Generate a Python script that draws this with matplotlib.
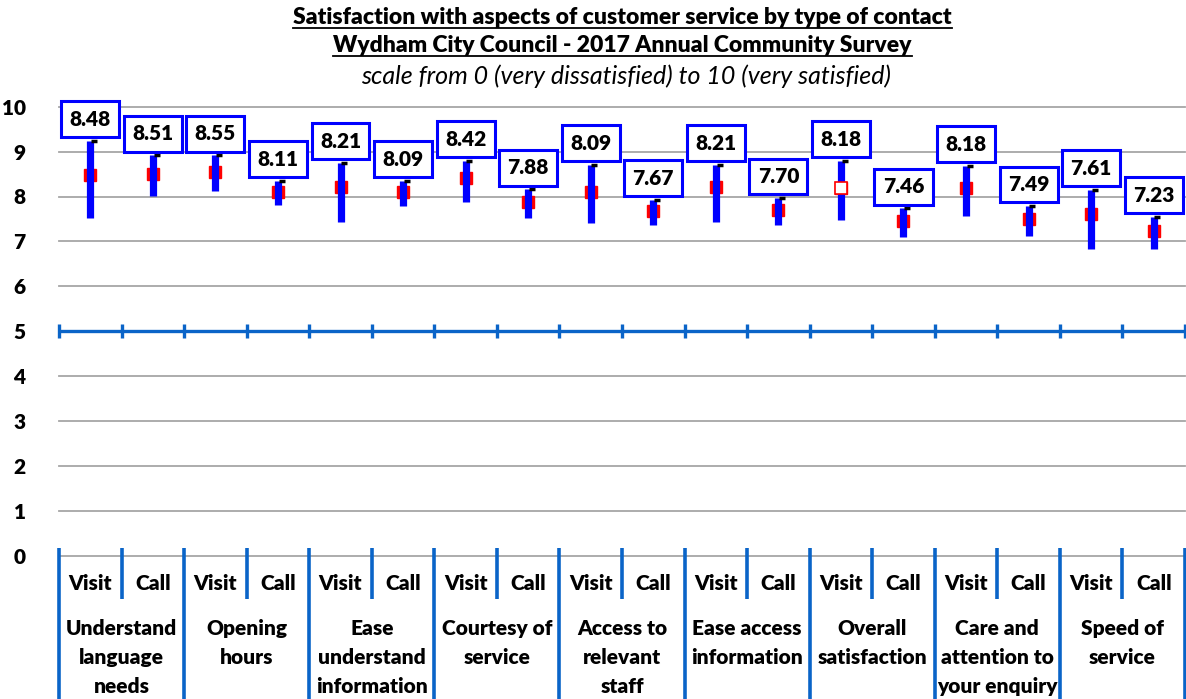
import numpy as np
import matplotlib
matplotlib.use("Agg")
import matplotlib.pyplot as plt
import matplotlib.transforms as mtransforms

plt.rcParams['font.family'] = ['Lato', 'DejaVu Sans']

# ---------------- data ----------------
categories = ["Understand\nlanguage\nneeds", "Opening\nhours", "Ease\nunderstand\ninformation",
              "Courtesy of\nservice", "Access to\nrelevant\nstaff", "Ease access\ninformation",
              "Overall\nsatisfaction", "Care and\nattention to\nyour enquiry", "Speed of\nservice"]
contact_types = ["Visit", "Call"]

visit_mean = [8.48, 8.55, 8.21, 8.42, 8.09, 8.21, 8.18, 8.18, 7.61]
call_mean = [8.51, 8.11, 8.09, 7.88, 7.67, 7.70, 7.46, 7.49, 7.23]
# 95% confidence interval ends (blue bars)
visit_low = [7.53, 8.13, 7.44, 7.88, 7.41, 7.44, 7.48, 7.57, 6.82]
visit_high = [9.24, 8.92, 8.75, 8.80, 8.71, 8.71, 8.80, 8.69, 8.15]
call_low = [8.02, 7.81, 7.78, 7.53, 7.37, 7.37, 7.10, 7.13, 6.82]
call_high = [8.92, 8.35, 8.35, 8.16, 7.93, 7.97, 7.74, 7.79, 7.55]

yticks = list(range(0, 11))
ref_line = 5

# interleave visit / call per category
means = np.ravel(np.column_stack([visit_mean, call_mean]))
lows = np.ravel(np.column_stack([visit_low, call_low]))
highs = np.ravel(np.column_stack([visit_high, call_high]))
n = len(means)
xs = np.arange(n) + 0.5

axis_blue = '#0A64C8'
W = 'heavy'
fig = plt.figure(figsize=(11.86, 6.99), dpi=100)
ax = fig.add_axes([59 / 1186, (699 - 555.7) / 699, 1126 / 1186, 449 / 699])
ax.set_xlim(0, n)
ax.set_ylim(0, 10)

# grid lines
for y in yticks:
    if y != ref_line:
        ax.axhline(y, color='#A6A6A6', lw=1.3, zorder=1, clip_on=False)
ax.axhline(ref_line, color=axis_blue, lw=2.4, zorder=2)
for b in range(n + 1):
    ax.plot([b, b], [ref_line - 0.15, ref_line + 0.15], color=axis_blue, lw=2.4, zorder=2,
            clip_on=False, solid_capstyle='butt')

# CI bars, means, caps
ax.vlines(xs, lows, highs, color='#0000FF', lw=5.2, zorder=3)
ax.plot(xs, means, 's', color='#FF0000', ms=9, zorder=2, ls='none')
hollow = 2 * categories.index("Overall\nsatisfaction")
ax.plot(xs[hollow], means[hollow], 's', mfc='white', mec='#FF0000', mew=1.2, ms=8, zorder=4)
ax.plot(xs + 0.06, highs, '_', color='black', ms=5, mew=2.5, zorder=3)

for x, m, h in zip(xs, means, highs):
    ax.annotate(f"{m:.2f}", (x, h), xytext=(0, 12), textcoords='offset pixels',
                ha='center', va='bottom', fontsize=15, fontweight=W, color='black',
                bbox=dict(boxstyle='square,pad=0.4', fc='white', ec='#0000FF', lw=2.2),
                zorder=6, annotation_clip=False)

# y axis labels
ax.set_yticks(yticks)
ax.set_yticklabels([str(t) for t in yticks], fontsize=15, fontweight=W)
ax.tick_params(axis='y', length=0, pad=24)
ax.set_xticks([])
for s in ax.spines.values():
    s.set_visible(False)

# category axis (two levels)
trans = mtransforms.blended_transform_factory(ax.transData, ax.transAxes)
ytop = 8 / 449
yshort = -(599 - 555.7) / 449
ylong = -(699 - 555.7) / 449
for b in range(n + 1):
    y1 = ylong if b % 2 == 0 else yshort
    ax.plot([b, b], [ytop, y1], color=axis_blue, lw=2.6, transform=trans, clip_on=False,
            solid_capstyle='butt')
for i, x in enumerate(xs):
    ax.text(x, -(584 - 555.7) / 449, contact_types[i % 2], transform=trans, ha='center',
            va='center', fontsize=15, fontweight=W)
for j, cat in enumerate(categories):
    ax.text(2 * j + 1, -(619 - 555.7) / 449, cat, transform=trans, ha='center', va='top',
            fontsize=15, fontweight=W, linespacing=1.62)

# titles
cx = (59 + 1186) / 2 / 1186
fig.text(cx, 1 - 18 / 699, "Satisfaction with aspects of customer service by type of contact",
         ha='center', va='center', fontsize=16.5, fontweight=W)
fig.text(cx, 1 - 46 / 699, "Wydham City Council - 2017 Annual Community Survey",
         ha='center', va='center', fontsize=16.5, fontweight=W)
fig.text(cx + 4 / 1186, 1 - 76 / 699, "scale from 0 (very dissatisfied) to 10 (very satisfied)",
         ha='center', va='center', fontsize=18, fontstyle='italic')

# underline the first two title lines
fig.canvas.draw()
for t in fig.texts[:2]:
    bb = t.get_window_extent()
    yy = (bb.y0 + 1) / 699
    fig.add_artist(plt.Line2D([bb.x0 / 1186, bb.x1 / 1186], [yy, yy], color='black', lw=1.3,
                              transform=fig.transFigure))

fig.savefig('out.png', dpi=100)
